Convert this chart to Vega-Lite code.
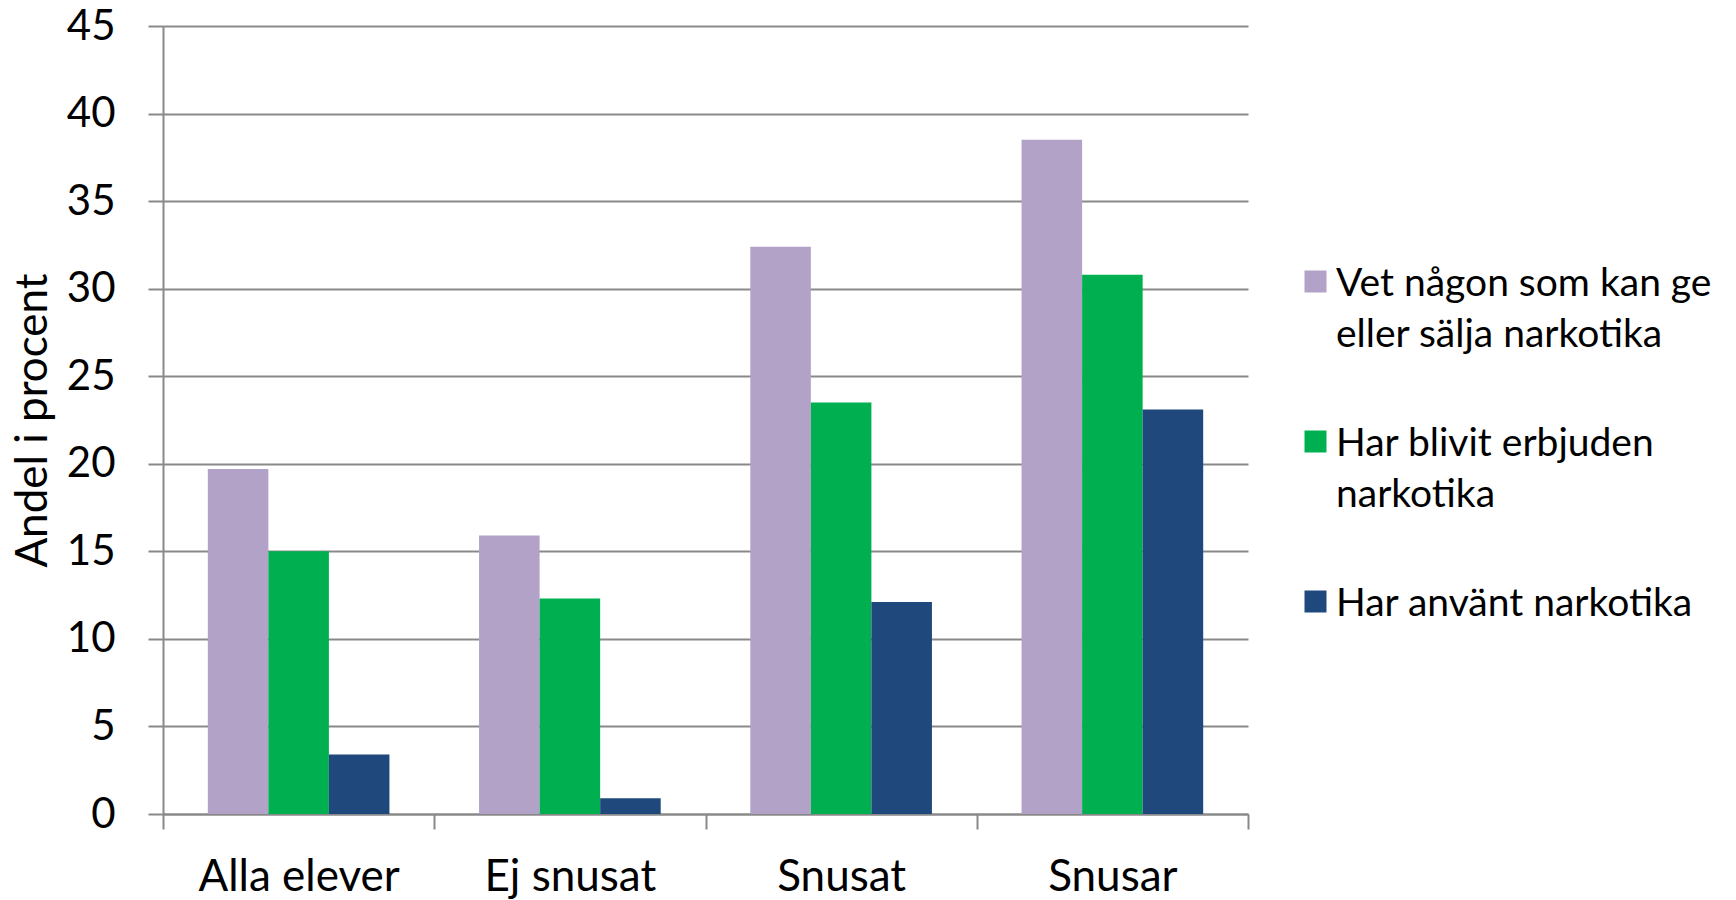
{
  "$schema": "https://vega.github.io/schema/vega-lite/v6.json",
  "width": 1085,
  "height": 788,
  "autosize": {"type": "none"},
  "padding": {"left": 163, "top": 26, "right": 488, "bottom": 86},
  "background": "white",
  "data": {
    "values": [
      {"group": "Alla elever", "serie": "Vet någon som kan ge eller sälja narkotika", "value": 19.7},
      {"group": "Alla elever", "serie": "Har blivit erbjuden narkotika", "value": 15.0},
      {"group": "Alla elever", "serie": "Har använt narkotika", "value": 3.4},
      {"group": "Ej snusat", "serie": "Vet någon som kan ge eller sälja narkotika", "value": 15.9},
      {"group": "Ej snusat", "serie": "Har blivit erbjuden narkotika", "value": 12.3},
      {"group": "Ej snusat", "serie": "Har använt narkotika", "value": 0.9},
      {"group": "Snusat", "serie": "Vet någon som kan ge eller sälja narkotika", "value": 32.4},
      {"group": "Snusat", "serie": "Har blivit erbjuden narkotika", "value": 23.5},
      {"group": "Snusat", "serie": "Har använt narkotika", "value": 12.1},
      {"group": "Snusar", "serie": "Vet någon som kan ge eller sälja narkotika", "value": 38.5},
      {"group": "Snusar", "serie": "Har blivit erbjuden narkotika", "value": 30.8},
      {"group": "Snusar", "serie": "Har använt narkotika", "value": 23.1}
    ]
  },
  "mark": {"type": "bar"},
  "encoding": {
    "x": {
      "field": "group",
      "type": "nominal",
      "sort": ["Alla elever", "Ej snusat", "Snusat", "Snusar"],
      "scale": {"paddingInner": 0, "paddingOuter": 0},
      "axis": {
        "title": null,
        "labelAngle": 0,
        "labelFont": "Lato",
        "labelFontSize": 44,
        "labelLimit": 400,
        "labelColor": "#000000",
        "labelPadding": 26,
        "domain": true,
        "domainColor": "#898989",
        "domainWidth": 2,
        "ticks": true,
        "tickBand": "extent",
        "tickSize": 15,
        "tickColor": "#898989",
        "tickWidth": 2,
        "grid": false
      }
    },
    "xOffset": {
      "field": "serie",
      "sort": ["Vet någon som kan ge eller sälja narkotika", "Har blivit erbjuden narkotika", "Har använt narkotika"],
      "scale": {"paddingInner": 0, "paddingOuter": 0.74}
    },
    "y": {
      "field": "value",
      "type": "quantitative",
      "scale": {"domain": [0, 45], "nice": false},
      "axis": {
        "values": [0, 5, 10, 15, 20, 25, 30, 35, 40, 45],
        "title": "Andel i procent",
        "titleFont": "Lato",
        "titleFontSize": 44,
        "titleFontWeight": "normal",
        "titleColor": "#000000",
        "titlePadding": 11,
        "labelFont": "Lato",
        "labelFontSize": 42,
        "labelColor": "#000000",
        "labelPadding": 33,
        "grid": true,
        "gridColor": "#898989",
        "gridWidth": 2,
        "domain": true,
        "domainColor": "#898989",
        "domainWidth": 2,
        "ticks": true,
        "tickSize": 15,
        "tickColor": "#898989",
        "tickWidth": 2
      }
    },
    "color": {
      "field": "serie",
      "type": "nominal",
      "scale": {
        "domain": ["Vet någon som kan ge eller sälja narkotika", "Har blivit erbjuden narkotika", "Har använt narkotika"],
        "range": ["#B2A2C7", "#00B050", "#1F497D"]
      },
      "legend": {
        "title": null,
        "orient": "none",
        "legendX": 1133,
        "legendY": 236,
        "symbolType": "square",
        "symbolSize": 484,
        "symbolStrokeWidth": 0,
        "labelFont": "Lato",
        "labelFontSize": 39,
        "labelColor": "#000000",
        "labelLimit": 800,
        "labelBaseline": "top",
        "labelOffset": 1,
        "rowPadding": 67,
        "labelExpr": "datum.label == 'Vet någon som kan ge eller sälja narkotika' ? ['Vet någon som kan ge', 'eller sälja narkotika'] : datum.label == 'Har blivit erbjuden narkotika' ? ['Har blivit erbjuden', 'narkotika'] : datum.label",
        "encode": {
          "labels": {"update": {"lineHeight": {"value": 51}, "dy": {"value": -17}}}
        }
      }
    }
  },
  "config": {"view": {"stroke": null}}
}
